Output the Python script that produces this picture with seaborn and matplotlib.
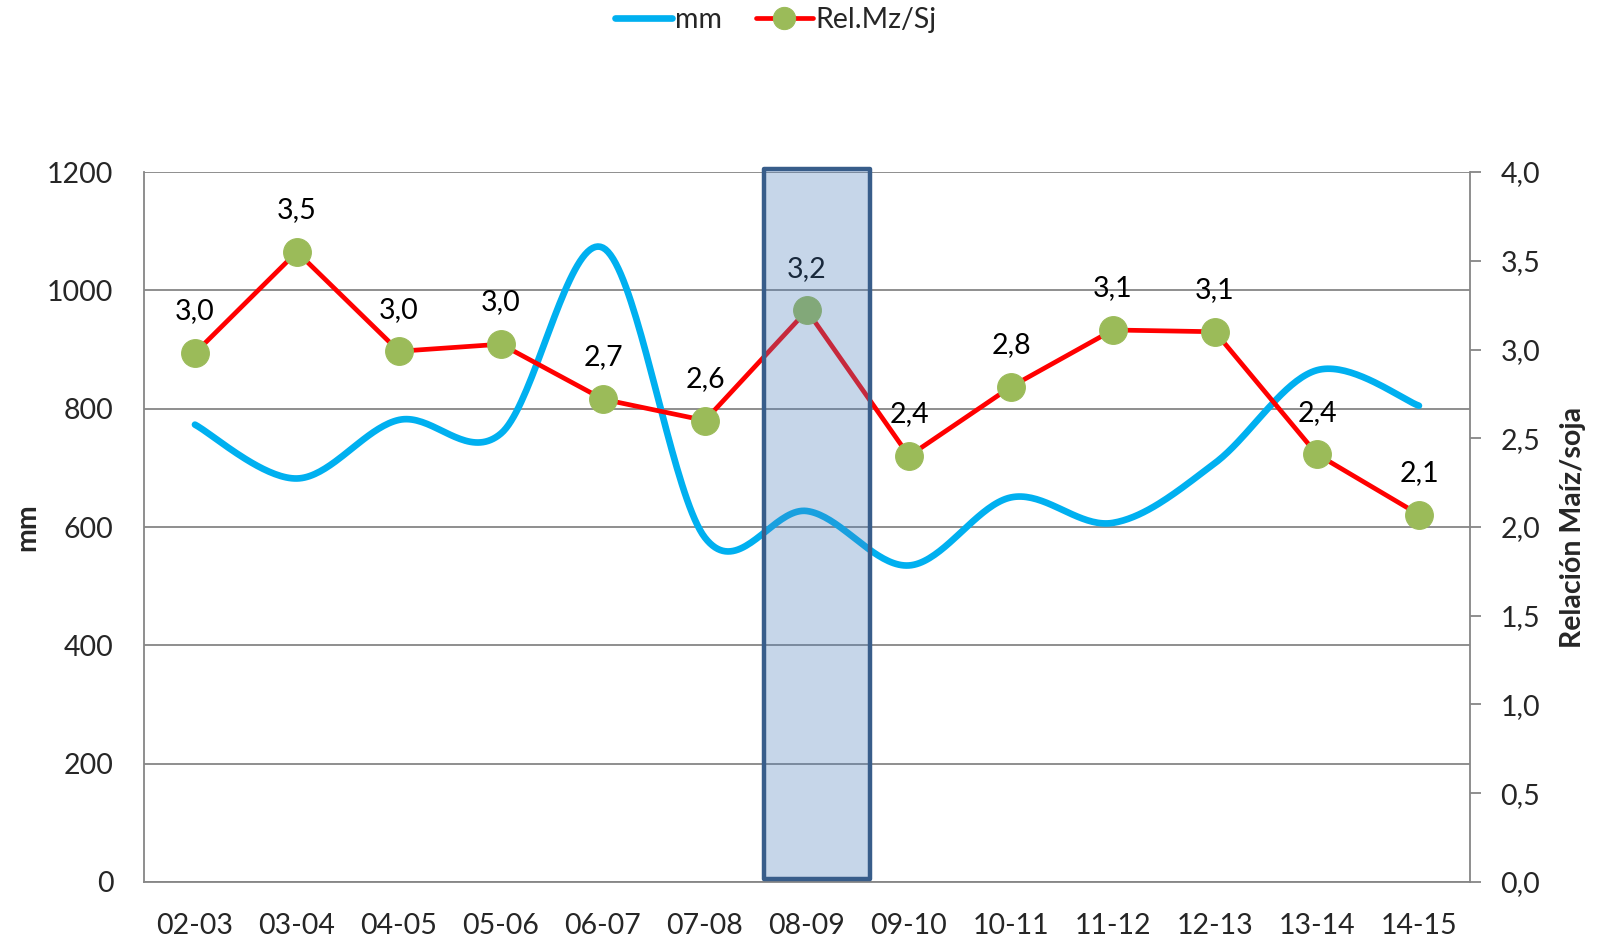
import numpy as np
import pandas as pd
import matplotlib
matplotlib.use("Agg")
import matplotlib.pyplot as plt
from matplotlib.patches import Rectangle
import seaborn as sns

# campaigns and values
campaigns = ['02-03', '03-04', '04-05', '05-06', '06-07', '07-08', '08-09',
             '09-10', '10-11', '11-12', '12-13', '13-14', '14-15']
rain_mm = [773, 682, 781, 758, 1072, 582, 627, 535, 650, 607, 708, 865, 805]
ratio_mz_sj = [2.98, 3.55, 2.99, 3.03, 2.72, 2.60, 3.22, 2.40, 2.79, 3.11, 3.10, 2.41, 2.07]
ratio_labels = ['3,0', '3,5', '3,0', '3,0', '2,7', '2,6', '3,2', '2,4', '2,8', '3,1', '3,1', '2,4', '2,1']
highlight = '08-09'

sns.set_style("white")
plt.rcParams['font.family'] = ['Lato', 'DejaVu Sans']

BLUE = '#00B0F0'
RED = '#FF0000'
GREEN = '#9BBB59'
GRID = '#868686'
FS = 20.5

x = np.arange(len(campaigns))


def smooth(xs, ys, n=40):
    # Catmull-Rom curve through the points (like Excel's smoothed line)
    xs = np.asarray(xs, float)
    ys = np.asarray(ys, float)
    px = np.concatenate([[xs[0]], xs, [xs[-1]]])
    py = np.concatenate([[ys[0]], ys, [ys[-1]]])
    out_x, out_y = [], []
    t = np.linspace(0, 1, n, endpoint=False)
    for i in range(1, len(px) - 2):
        for p, out in ((px, out_x), (py, out_y)):
            p0, p1, p2, p3 = p[i - 1], p[i], p[i + 1], p[i + 2]
            c1 = p1 + (p2 - p0) / 6
            c2 = p2 - (p3 - p1) / 6
            out.extend((1 - t) ** 3 * p1 + 3 * (1 - t) ** 2 * t * c1
                       + 3 * (1 - t) * t ** 2 * c2 + t ** 3 * p2)
    out_x.append(xs[-1])
    out_y.append(ys[-1])
    return np.array(out_x), np.array(out_y)


sx, sy = smooth(x, rain_mm)
df_smooth = pd.DataFrame({'x': sx, 'mm': sy})
df_ratio = pd.DataFrame({'x': x, 'ratio': ratio_mz_sj})

fig = plt.figure(figsize=(16.03, 9.42), dpi=100)
ax = fig.add_axes([0.0898, 0.0637, 0.8272, 0.7537])
ax2 = ax.twinx()

sns.lineplot(data=df_smooth, x='x', y='mm', ax=ax, color=BLUE, linewidth=4.8,
             sort=False, estimator=None, solid_capstyle='round', label='mm', legend=False)
sns.lineplot(data=df_ratio, x='x', y='ratio', ax=ax2, color=RED, linewidth=3.4,
             marker='o', markersize=20, markerfacecolor=GREEN, markeredgecolor=GREEN,
             label='Rel.Mz/Sj', legend=False)

for xi, yi, lab in zip(x, ratio_mz_sj, ratio_labels):
    ax2.annotate(lab, (xi, yi), xytext=(0, 30), textcoords='offset points',
                 ha='center', va='center', fontsize=FS, color='black')

# highlighted campaign
hi = campaigns.index(highlight)
rect = Rectangle((hi - 0.42, 0.017), 1.04, 4.0, facecolor='#4F81BD', alpha=0.32,
                 edgecolor='none', zorder=10, clip_on=False)
ax2.add_patch(rect)
rect_edge = Rectangle((hi - 0.42, 0.017), 1.04, 4.0, facecolor='none',
                      edgecolor='#385D8A', linewidth=3.2, zorder=11, clip_on=False,
                      joinstyle='round')
ax2.add_patch(rect_edge)

ax.set_xlim(-0.5, len(campaigns) - 0.5)
ax.set_ylim(0, 1200)
ax2.set_ylim(0, 4.0)
ax.set_xticks(x)
ax.set_xticklabels(campaigns, fontsize=FS)
ax.set_yticks(np.arange(0, 1201, 200))
ax.set_yticklabels([str(v) for v in range(0, 1201, 200)], fontsize=FS)
ax2.set_yticks(np.arange(0, 4.01, 0.5))
ax2.set_yticklabels([f'{v:.1f}'.replace('.', ',') for v in np.arange(0, 4.01, 0.5)], fontsize=FS)

ax.yaxis.grid(True, color=GRID, linewidth=1.3)
ax.set_axisbelow(True)
ax.tick_params(axis='x', length=0, pad=22)
ax.tick_params(axis='y', length=0, pad=22)
ax2.tick_params(axis='y', length=8, width=1.3, color=GRID, direction='out', pad=14)

for a in (ax, ax2):
    for s in a.spines.values():
        s.set_color(GRID)
        s.set_linewidth(1.3)
    a.spines['top'].set_visible(False)
ax.spines['right'].set_visible(False)
ax2.spines['left'].set_visible(False)
ax2.spines['bottom'].set_visible(False)

ax.set_xlabel('')
ax.set_ylabel('mm', fontsize=FS, fontweight='bold', labelpad=5)
ax2.set_ylabel('Relación Maíz/soja', fontsize=FS, fontweight='bold', labelpad=14)

h1, l1 = ax.get_legend_handles_labels()
h2, l2 = ax2.get_legend_handles_labels()
fig.legend(h1 + h2, l1 + l2, loc='upper center', bbox_to_anchor=(0.484, 1.02), ncol=2,
           frameon=False, fontsize=FS, handlelength=2.0, columnspacing=1.2, handletextpad=0.1,
           markerscale=0.8)

fig.savefig('out.png', dpi=100)
